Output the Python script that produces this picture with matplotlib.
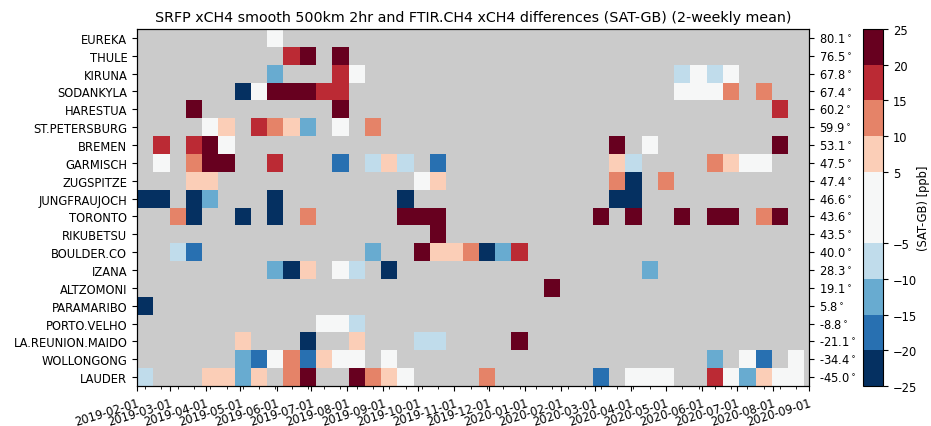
import numpy as np
import matplotlib
matplotlib.use("Agg")
import matplotlib.pyplot as plt
import matplotlib.dates as mdates
from matplotlib.colors import BoundaryNorm
import datetime as dt

n = np.nan

stations = ["EUREKA", "THULE", "KIRUNA", "SODANKYLA", "HARESTUA", "ST.PETERSBURG",
            "BREMEN", "GARMISCH", "ZUGSPITZE", "JUNGFRAUJOCH", "TORONTO", "RIKUBETSU",
            "BOULDER.CO", "IZANA", "ALTZOMONI", "PARAMARIBO", "PORTO.VELHO",
            "LA.REUNION.MAIDO", "WOLLONGONG", "LAUDER"]
latitudes = [80.1, 76.5, 67.8, 67.4, 60.2, 59.9, 53.1, 47.5, 47.4, 46.6, 43.6, 43.5,
             40.0, 28.3, 19.1, 5.8, -8.8, -21.1, -34.4, -45.0]

period_start = "2019-02-01"
period_days = 14
n_periods = 41

EUREKA = [n, n, n, n, n, n, n, n, 0, n,
          n, n, n, n, n, n, n, n, n, n,
          n, n, n, n, n, n, n, n, n, n,
          n, n, n, n, n, n, n, n, n, n, n]
THULE = [n, n, n, n, n, n, n, n, n, 17,
         22, n, 22, n, n, n, n, n, n, n,
         n, n, n, n, n, n, n, n, n, n,
         n, n, n, n, n, n, n, n, n, n, n]
KIRUNA = [n, n, n, n, n, n, n, n, -12, n,
          n, n, 17, 0, n, n, n, n, n, n,
          n, n, n, n, n, n, n, n, n, n,
          n, n, n, -7, 0, -7, 0, n, n, n, n]
SODANKYLA = [n, n, n, n, n, n, -22, 0, 22, 22,
             22, 17, 17, n, n, n, n, n, n, n,
             n, n, n, n, n, n, n, n, n, n,
             n, n, n, 0, 0, 0, 12, n, 12, n, n]
HARESTUA = [n, n, n, 22, n, n, n, n, n, n,
            n, n, 22, n, n, n, n, n, n, n,
            n, n, n, n, n, n, n, n, n, n,
            n, n, n, n, n, n, n, n, n, 17, n]
ST_PETERSBURG = [n, n, n, n, 0, 7, n, 17, 12, 7,
                 -12, n, 0, n, 12, n, n, n, n, n,
                 n, n, n, n, n, n, n, n, n, n,
                 n, n, n, n, n, n, n, n, n, n, n]
BREMEN = [n, 17, n, 17, 22, 0, n, n, n, n,
          n, n, n, n, n, n, n, n, n, n,
          n, n, n, n, n, n, n, n, n, 22,
          n, 0, n, n, n, n, n, n, n, 22, n]
GARMISCH = [n, 0, n, 12, 22, 22, n, n, 17, n,
            n, n, -17, n, -7, 7, -7, n, -17, n,
            n, n, n, n, n, n, n, n, n, 7,
            -7, n, n, n, n, 12, 7, 0, 0, n, n]
ZUGSPITZE = [n, n, n, 7, 7, n, n, n, n, n,
             n, n, n, n, n, n, n, 0, 7, n,
             n, n, n, n, n, n, n, n, n, 12,
             -22, n, 12, n, n, n, n, n, n, n, n]
JUNGFRAUJOCH = [-22, -22, n, -22, -12, n, n, n, -22, n,
                n, n, n, n, n, n, -22, n, n, n,
                n, n, n, n, n, n, n, n, n, -22,
                -22, n, n, n, n, n, n, n, n, n, n]
TORONTO = [n, n, 12, -22, n, n, -22, n, -22, n,
           12, n, n, n, n, n, 22, 22, 22, n,
           n, n, n, n, n, n, n, n, 22, n,
           22, n, n, 22, n, 22, 22, n, 12, 22, n]
RIKUBETSU = [n, n, n, n, n, n, n, n, n, n,
             n, n, n, n, n, n, n, n, 22, n,
             n, n, n, n, n, n, n, n, n, n,
             n, n, n, n, n, n, n, n, n, n, n]
BOULDER_CO = [n, n, -7, -17, n, n, n, n, n, n,
              n, n, n, n, -12, n, n, 22, 7, 7,
              12, -22, -12, 17, n, n, n, n, n, n,
              n, n, n, n, n, n, n, n, n, n, n]
IZANA = [n, n, n, n, n, n, n, n, -12, -22,
         7, n, 0, -7, n, -22, n, n, n, n,
         n, n, n, n, n, n, n, n, n, n,
         n, -12, n, n, n, n, n, n, n, n, n]
ALTZOMONI = [n, n, n, n, n, n, n, n, n, n,
             n, n, n, n, n, n, n, n, n, n,
             n, n, n, n, n, 22, n, n, n, n,
             n, n, n, n, n, n, n, n, n, n, n]
PARAMARIBO = [-22, n, n, n, n, n, n, n, n, n,
              n, n, n, n, n, n, n, n, n, n,
              n, n, n, n, n, n, n, n, n, n,
              n, n, n, n, n, n, n, n, n, n, n]
PORTO_VELHO = [n, n, n, n, n, n, n, n, n, n,
               n, 0, 0, -7, n, n, n, n, n, n,
               n, n, n, n, n, n, n, n, n, n,
               n, n, n, n, n, n, n, n, n, n, n]
LA_REUNION_MAIDO = [n, n, n, n, n, n, 7, n, n, n,
                    -22, n, n, 7, n, n, n, -7, -7, n,
                    n, n, n, 22, n, n, n, n, n, n,
                    n, n, n, n, n, n, n, n, n, n, n]
WOLLONGONG = [n, n, n, n, n, n, -12, -17, 0, 12,
              -17, 7, 0, 0, n, 0, n, n, n, n,
              n, n, n, n, n, n, n, n, n, n,
              n, n, n, n, n, -12, n, 0, -17, n, 0]
LAUDER = [-7, n, n, n, 7, 7, -12, 7, n, 12,
          22, n, n, 22, 12, 7, 0, n, n, n,
          n, 12, n, n, n, n, n, n, -17, n,
          0, 0, 0, n, n, 17, 0, -12, 7, 0, 0]

rows = [EUREKA, THULE, KIRUNA, SODANKYLA, HARESTUA, ST_PETERSBURG, BREMEN, GARMISCH,
        ZUGSPITZE, JUNGFRAUJOCH, TORONTO, RIKUBETSU, BOULDER_CO, IZANA, ALTZOMONI,
        PARAMARIBO, PORTO_VELHO, LA_REUNION_MAIDO, WOLLONGONG, LAUDER]
data = np.ma.masked_invalid(np.array(rows, dtype=float))

levels = [-25, -20, -15, -10, -5, 5, 10, 15, 20, 25]
cmap = plt.get_cmap("RdBu_r").copy()
norm = BoundaryNorm(levels, cmap.N)

t0 = np.datetime64(period_start)
edges = t0 + np.arange(n_periods + 1) * np.timedelta64(period_days, "D")
centers = edges[:-1] + np.timedelta64(period_days // 2, "D")
x_edges = mdates.date2num(edges.astype("datetime64[s]").astype(dt.datetime))
x_centers = mdates.date2num(centers.astype("datetime64[s]").astype(dt.datetime))
y_edges = np.arange(len(stations) + 1)

fig = plt.figure(figsize=(9.31, 4.27), dpi=100)
ax = fig.add_axes([137 / 931, 1 - 387 / 427, 672 / 931, 357 / 427])
ax.set_facecolor("#cbcbcb")
mesh = ax.pcolormesh(x_edges, y_edges, data, cmap=cmap, norm=norm)

ax.set_xlim(mdates.date2num(dt.datetime(2019, 2, 1)), mdates.date2num(dt.datetime(2020, 9, 1)))
ax.set_ylim(len(stations), 0)
ax.xaxis.set_major_locator(mdates.MonthLocator())
ax.xaxis.set_major_formatter(mdates.DateFormatter("%Y-%m-%d"))
ax.set_xticks(x_centers, minor=True)
ax.tick_params(axis="x", which="minor", length=2)
for lab in ax.get_xticklabels():
    lab.set_rotation(17)
    lab.set_ha("right")
    lab.set_rotation_mode("anchor")
ax.tick_params(axis="x", labelsize=8.3)
ax.set_yticks(np.arange(len(stations)) + 0.5)
ax.set_yticklabels(stations, fontsize=8.3)

ax2 = ax.twinx()
ax2.set_ylim(len(stations), 0)
ax2.set_yticks(np.arange(len(stations)) + 0.5)
ax2.set_yticklabels([f"{lat:.1f}$^\\circ$" for lat in latitudes], fontsize=8.3)

ax.set_title("SRFP xCH4 smooth 500km 2hr and FTIR.CH4 xCH4 differences (SAT-GB) (2-weekly mean)",
             fontsize=10.3)

cax = fig.add_axes([863 / 931, 1 - 387 / 427, 20 / 931, 357 / 427])
cb = fig.colorbar(mesh, cax=cax, ticks=levels, spacing="proportional")
cb.ax.tick_params(labelsize=8.3)
cb.set_label("(SAT-GB) [ppb]", fontsize=8.3, labelpad=0)

fig.savefig("out.png", dpi=100)
